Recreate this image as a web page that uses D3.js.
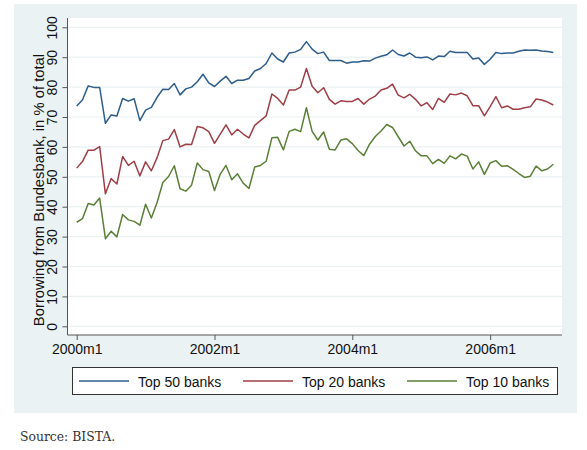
<!DOCTYPE html>
<html><head><meta charset="utf-8">
<script src="https://cdn.jsdelivr.net/npm/d3@7"></script>
<style>
html,body{margin:0;padding:0;background:#fff;}
svg{display:block;}
</style></head>
<body>
<script>
// ---- data (monthly, 2000m1 .. 2006m12) ----
const top50 = [73.7,75.7,80.4,79.9,79.9,67.9,70.7,70.3,76.2,75.3,76.1,68.8,
  72.3,73.2,76.6,79.3,79.2,81.2,77.4,79.4,80.0,81.8,84.3,81.4,
  80.2,82.0,83.6,81.2,82.3,82.3,82.9,85.4,86.2,87.9,91.4,89.4,
  88.4,91.4,91.7,92.6,95.2,92.7,91.2,91.7,88.9,88.9,88.9,88.0,
  88.4,88.4,88.8,88.7,89.7,90.3,90.8,92.4,90.9,90.4,91.4,90.0,
  89.8,90.1,89.1,90.4,90.2,92.0,91.6,91.6,91.6,89.4,89.7,87.6,
  89.3,91.6,91.2,91.4,91.4,92.0,92.4,92.3,92.4,92.1,91.9,91.6];
const top20 = [52.9,55.1,58.9,58.9,60.1,44.3,49.4,47.6,56.8,53.8,55.2,50.3,
  55.0,52.0,56.4,62.1,62.6,65.8,60.0,60.9,60.8,66.8,66.4,65.1,
  61.2,64.3,67.4,64.0,65.9,64.3,63.0,67.2,68.8,70.4,77.7,76.2,
  74.0,79.0,79.0,80.0,86.2,80.3,78.1,79.8,75.9,74.3,75.4,75.2,
  75.2,76.2,74.3,76.0,77.0,79.0,79.6,81.0,77.3,76.4,77.6,75.9,
  73.7,74.8,72.5,76.2,74.9,77.7,77.4,78.0,77.1,73.8,73.8,70.4,
  73.5,76.8,73.1,73.7,72.6,72.6,73.1,73.4,76.0,75.7,75.0,74.0];
const top10 = [34.8,36.0,41.1,40.6,42.9,29.3,31.8,29.9,37.4,35.6,35.1,33.8,
  40.8,36.2,41.4,48.1,50.1,53.7,46.0,45.2,47.2,54.6,52.4,51.8,
  45.4,50.9,53.8,49.0,51.0,47.9,46.1,53.3,53.8,55.2,63.1,63.2,
  59.0,65.2,65.9,65.1,73.1,65.2,62.3,65.0,59.2,59.0,62.3,62.7,
  61.1,58.8,57.1,60.9,63.5,65.3,67.5,66.5,63.4,60.3,61.9,58.7,
  57.0,57.0,54.4,55.8,54.5,57.0,56.0,57.6,56.9,52.6,55.0,50.8,
  54.6,55.4,53.5,53.7,52.5,51.1,49.8,50.2,53.6,52.0,52.6,54.2];
const seriesNames = ["Top 50 banks","Top 20 banks","Top 10 banks"];
const xTickMonths = [0,24,48,72];
const xTickLabels = ["2000m1","2002m1","2004m1","2006m1"];
const yTicks = [0,10,20,30,40,50,60,70,80,90,100];
const yTitle = "Borrowing from Bundesbank, in % of total";
const sourceNote = "Source: BISTA.";

// ---- drawing ----
const W = 587, H = 450;
const colors = ["#2f5d8a","#9e3f47","#5b7f36"];
const svg = d3.select("body").append("svg").attr("width",W).attr("height",H);

// outer panel
svg.append("rect").attr("x",14).attr("y",4).attr("width",563).attr("height",409).attr("fill","#eaf2f3");

const plot = {left:67.5, right:562, top:18, bottom:335};
svg.append("rect").attr("x",plot.left).attr("y",plot.top)
  .attr("width",plot.right-plot.left).attr("height",plot.bottom-plot.top).attr("fill","#fff");

const x = d3.scaleLinear().domain([0,83]).range([76.7,553.3]);
const y = d3.scaleLinear().domain([0,100]).range([326.3,27.3]);

// gridlines
svg.append("g").selectAll("line").data(yTicks).join("line")
  .attr("x1",plot.left+1).attr("x2",plot.right)
  .attr("y1",d=>y(d)).attr("y2",d=>y(d))
  .attr("stroke","#eaf2f3").attr("stroke-width",1.2);

const sans = "Liberation Sans, Arial, sans-serif";

// y axis
const yAxis = svg.append("g").attr("transform",`translate(${plot.left},0)`)
  .call(d3.axisLeft(y).tickValues(yTicks).tickSize(5).tickPadding(5));
yAxis.select(".domain").attr("d",`M0,${plot.top}V${plot.bottom}`).attr("stroke","#555");
yAxis.selectAll(".tick line").attr("stroke","#555");
yAxis.selectAll(".tick text")
  .attr("font-family",sans).attr("font-size",14).attr("fill","#111")
  .attr("x",null).attr("dy",null)
  .attr("text-anchor","middle")
  .attr("transform","translate(-10.5,0) rotate(-90)");

// x axis
const xAxis = svg.append("g").attr("transform",`translate(0,${plot.bottom})`)
  .call(d3.axisBottom(x).tickValues(xTickMonths).tickFormat((d,i)=>xTickLabels[i]).tickSize(5).tickPadding(4));
xAxis.select(".domain").attr("d",`M${plot.left},0H${plot.right}`).attr("stroke","#555");
xAxis.selectAll(".tick line").attr("stroke","#555");
xAxis.selectAll(".tick text")
  .attr("font-family",sans).attr("font-size",14).attr("fill","#111");

// y title
svg.append("text").attr("transform","translate(43.5,190) rotate(-90)")
  .attr("text-anchor","middle").attr("font-family",sans)
  .attr("font-size",14.8).attr("fill","#111").text(yTitle);

// lines
const line = d3.line().x((d,i)=>x(i)).y(d=>y(d));
[top50,top20,top10].forEach((s,k)=>{
  svg.append("path").datum(s).attr("d",line).attr("fill","none")
    .attr("stroke",colors[k]).attr("stroke-width",1.5).attr("stroke-linejoin","round");
});

// legend
const lg = svg.append("g");
lg.append("rect").attr("x",72.5).attr("y",367.5).attr("width",485).attr("height",27)
  .attr("fill","#fff").attr("stroke","#333").attr("stroke-width",1);
const legX = [79, 243, 407];
seriesNames.forEach((n,k)=>{
  lg.append("line").attr("x1",legX[k]).attr("x2",legX[k]+50).attr("y1",381).attr("y2",381)
    .attr("stroke",colors[k]).attr("stroke-width",1.5);
  lg.append("text").attr("x",legX[k]+59).attr("y",386.5)
    .attr("font-family",sans).attr("font-size",14).attr("fill","#111").text(n);
});

// source
svg.append("text").attr("x",20).attr("y",441).attr("font-family","DejaVu Serif, serif")
  .attr("font-size",12.4).attr("fill","#333").text(sourceNote);
</script>
</body></html>
